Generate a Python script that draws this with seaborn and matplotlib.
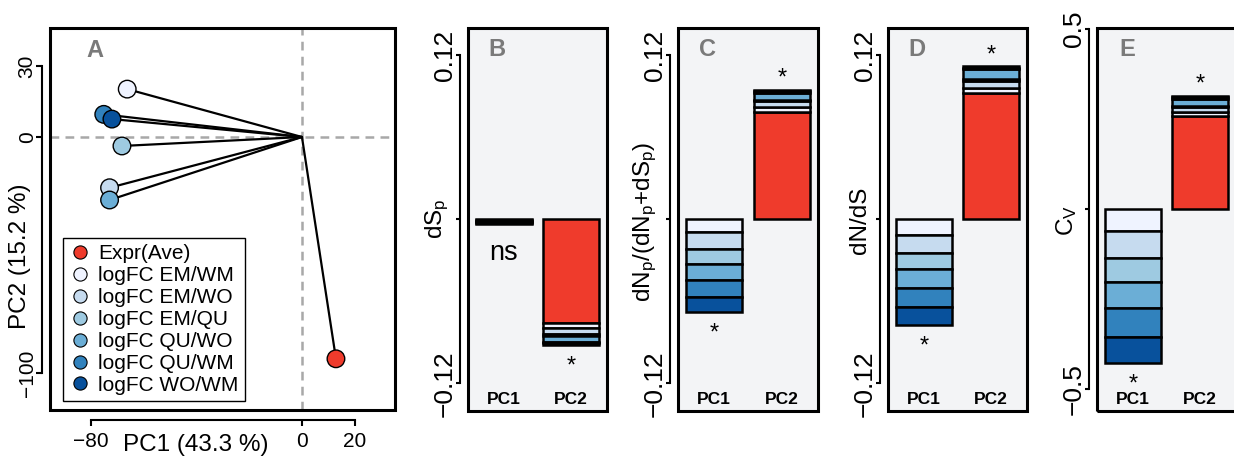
import numpy as np
import pandas as pd
import matplotlib
matplotlib.use("Agg")
import matplotlib.pyplot as plt
import matplotlib.transforms as mtransforms
from matplotlib.patches import Rectangle
from matplotlib.lines import Line2D
import seaborn as sns

# ---------------- data ----------------
groups = ["Expr(Ave)", "logFC EM/WM", "logFC EM/WO", "logFC EM/QU",
          "logFC QU/WO", "logFC QU/WM", "logFC WO/WM"]
colors = ["#ef3b2c", "#eff3ff", "#c6dbef", "#9ecae1", "#6baed6", "#3182bd", "#08519c"]
pc1_scores = [12.9, -66.3, -73.0, -68.3, -73.0, -75.2, -72.1]
pc2_scores = [-94.0, 20.3, -21.5, -3.8, -26.7, 9.6, 7.6]

bar_cats = ["PC1", "PC2"]
# stacked contributions (order = groups)
dSp_pc1 = [-0.0005, -0.0005, -0.0005, -0.0005, -0.0005, -0.0005, -0.0005]
dSp_pc2 = [-0.076, -0.0035, -0.0045, -0.001, -0.005, -0.0008, -0.0008]
dNr_pc1 = [0.0, -0.0095, -0.0122, -0.0112, -0.0115, -0.0122, -0.0114]
dNr_pc2 = [0.0788, 0.0035, 0.004, 0.001, 0.0055, 0.001, 0.001]
dNdS_pc1 = [0.0, -0.0115, -0.0134, -0.0115, -0.0136, -0.0139, -0.0134]
dNdS_pc2 = [0.0924, 0.004, 0.005, 0.001, 0.0075, 0.001, 0.001]
cv_pc1 = [0.0, -0.061, -0.076, -0.067, -0.072, -0.079, -0.074]
cv_pc2 = [0.259, 0.011, 0.013, 0.004, 0.02, 0.004, 0.004]
signif_B = ["ns", "*"]
signif_C = ["*", "*"]
signif_D = ["*", "*"]
signif_E = ["*", "*"]

# ---------------- style ----------------
sns.set_theme(style="white")
plt.rcParams["font.family"] = ["Liberation Sans", "DejaVu Sans"]
plt.rcParams["mathtext.default"] = "regular"
plt.rcParams["text.color"] = "black"
plt.rcParams["axes.labelcolor"] = "black"
plt.rcParams["xtick.color"] = "black"
plt.rcParams["ytick.color"] = "black"

W, H = 1234, 462
fig = plt.figure(figsize=(W / 100, H / 100), dpi=100)


def rect(x0, y0, x1, y1):
    return [x0 / W, 1 - y1 / H, (x1 - x0) / W, (y1 - y0) / H]


def fpos(x, y):
    return x / W, 1 - y / H


def PT(px):
    return px * 0.72


def add_box(ax):
    ax.add_patch(Rectangle((0, 0), 1, 1, transform=ax.transAxes, fill=False,
                           lw=2.2, ec="black", clip_on=False, zorder=20))
    for s in ["top", "right", "bottom", "left"]:
        ax.spines[s].set_visible(False)


letter_color = "#7a7a7a"

# ---------------- Panel A ----------------
axA = fig.add_axes(rect(50, 28, 395, 410))
axA.set_facecolor("white")
add_box(axA)
axA.set_xlim(-95.6, 35.3)
axA.set_ylim(-115.7, 46.2)
axA.axhline(0, color="#a8a8a8", lw=1.8, ls=(0, (3.5, 2.5)), zorder=1)
axA.axvline(0, color="#a8a8a8", lw=1.8, ls=(0, (3.5, 2.5)), zorder=1)
for x, y in zip(pc1_scores, pc2_scores):
    axA.plot([0, x], [0, y], color="black", lw=1.6, zorder=2)
dfA = pd.DataFrame({"PC1": pc1_scores, "PC2": pc2_scores, "group": groups})
sns.scatterplot(data=dfA, x="PC1", y="PC2", hue="group",
                palette=dict(zip(groups, colors)), s=160, edgecolor="black",
                linewidth=1.0, legend=False, ax=axA, zorder=3)
axA.set_xlabel("")
axA.set_ylabel("")
axA.spines["left"].set_visible(True)
axA.spines["bottom"].set_visible(True)
axA.spines["left"].set_position(("outward", PT(8)))
axA.spines["bottom"].set_position(("outward", PT(10)))
axA.spines["left"].set_bounds(-100, 30)
axA.spines["bottom"].set_bounds(-80, 20)
for s in ["left", "bottom"]:
    axA.spines[s].set_linewidth(1.5)
    axA.spines[s].set_color("black")
axA.set_yticks([-100, 0, 30])
axA.set_yticklabels(["\u2212100", "0", "30"], rotation=90, va="center")
axA.set_xticks([-80, 0, 20])
axA.set_xticklabels(["\u221280", "0", "20"])
axA.tick_params(axis="both", which="both", left=True, bottom=True,
                direction="out", length=PT(6), width=1.5, labelsize=15,
                colors="black")
axA.tick_params(axis="y", pad=-0.5)
axA.tick_params(axis="x", pad=4)
handles = [Line2D([], [], marker="o", ls="", markerfacecolor=c, markeredgecolor="black",
                  markeredgewidth=0.8, markersize=9.5) for c in colors]
leg = axA.legend(handles, groups, loc="lower left",
                 bbox_to_anchor=((63 - 50) / 345, (410 - 401) / 382),
                 borderaxespad=0, frameon=True, fancybox=False, framealpha=1,
                 edgecolor="black", fontsize=15, labelspacing=0.14,
                 handlelength=1.0, handletextpad=0.4, borderpad=0.3)
leg.get_frame().set_linewidth(1.0)
leg.set_zorder(15)
fig.text(*fpos(95, 57), "A", fontsize=17, fontweight="bold", color=letter_color,
         ha="center", va="baseline")
fig.text(*fpos(20, 256), "PC2 (15.2 %)", rotation=90, fontsize=17.5,
         ha="center", va="center", rotation_mode="anchor")
fig.text(*fpos(196, 445), "PC1 (43.3 %)", fontsize=17.5,
         ha="center", va="center")

# ---------------- Bar panels ----------------
panels = [
    dict(box=(468, 28, 607, 411), pc1=dSp_pc1, pc2=dSp_pc2, sig=signif_B,
         ylim=(-0.1402, 0.14), ticks=[-0.12, 0, 0.12], tl=["\u22120.12", "", "0.12"],
         label="dS$_p$", lab_xy=(437, 219), letter="B", lx=497),
    dict(box=(678, 28, 818, 411), pc1=dNr_pc1, pc2=dNr_pc2, sig=signif_C,
         ylim=(-0.1402, 0.14), ticks=[-0.12, 0, 0.12], tl=["\u22120.12", "", "0.12"],
         label="dN$_p$/(dN$_p$+dS$_p$)", lab_xy=(645, 222), letter="C", lx=707),
    dict(box=(888, 28, 1027, 411), pc1=dNdS_pc1, pc2=dNdS_pc2, sig=signif_D,
         ylim=(-0.1402, 0.14), ticks=[-0.12, 0, 0.12], tl=["\u22120.12", "", "0.12"],
         label="dN/dS", lab_xy=(860, 220), letter="D", lx=917),
    dict(box=(1097, 28, 1236, 411), pc1=cv_pc1, pc2=cv_pc2, sig=signif_E,
         ylim=(-0.561, 0.503), ticks=[-0.5, 0, 0.5], tl=["\u22120.5", "", "0.5"],
         label="C$_V$", lab_xy=(1067, 220), letter="E", lx=1127),
]

bw = 0.836
for p in panels:
    ax = fig.add_axes(rect(*p["box"]))
    ax.set_facecolor("#f3f4f6")
    add_box(ax)
    ax.set_xlim(-0.537, 1.537)
    ax.set_ylim(*p["ylim"])
    for xi, vals in enumerate([p["pc1"], p["pc2"]]):
        cum = 0.0
        for v, c in zip(vals, colors):
            if v == 0:
                continue
            ax.bar(xi, v, bottom=cum, width=bw, color=c, edgecolor="black",
                   linewidth=1.8, zorder=3)
            cum += v
        s = p["sig"][xi]
        if s == "ns":
            ax.annotate(s, xy=(xi, 0), xytext=(0, -PT(41)), textcoords="offset points",
                        ha="center", va="baseline", fontsize=19.5)
        else:
            if cum < 0:
                off = -PT(27.5)
            else:
                off = PT(5)
            ax.annotate(s, xy=(xi, cum), xytext=(0, off), textcoords="offset points",
                        ha="center", va="baseline", fontsize=17)
        trans = mtransforms.blended_transform_factory(ax.transData, ax.transAxes)
        ax.text(xi, 0.018, bar_cats[xi], transform=trans, ha="center",
                va="baseline", fontsize=12.5, fontweight="bold")
    ax.spines["left"].set_visible(True)
    ax.spines["left"].set_position(("outward", PT(8)))
    ax.spines["left"].set_bounds(p["ticks"][0], p["ticks"][-1])
    ax.spines["left"].set_linewidth(1.5)
    ax.spines["left"].set_color("black")
    ax.set_yticks(p["ticks"])
    ax.set_yticklabels(p["tl"], rotation=90, va="center")
    ax.set_xticks([])
    ax.tick_params(axis="y", left=True, direction="out", length=PT(4), width=1.5,
                   labelsize=19, pad=-0.5, colors="black")
    fig.text(*fpos(*p["lab_xy"]), p["label"], rotation=90, fontsize=17.5,
             ha="center", va="center", rotation_mode="anchor")
    fig.text(*fpos(p["lx"], 56), p["letter"], fontsize=17, fontweight="bold",
             color=letter_color, ha="center", va="baseline")

fig.savefig("out.png", dpi=100)
